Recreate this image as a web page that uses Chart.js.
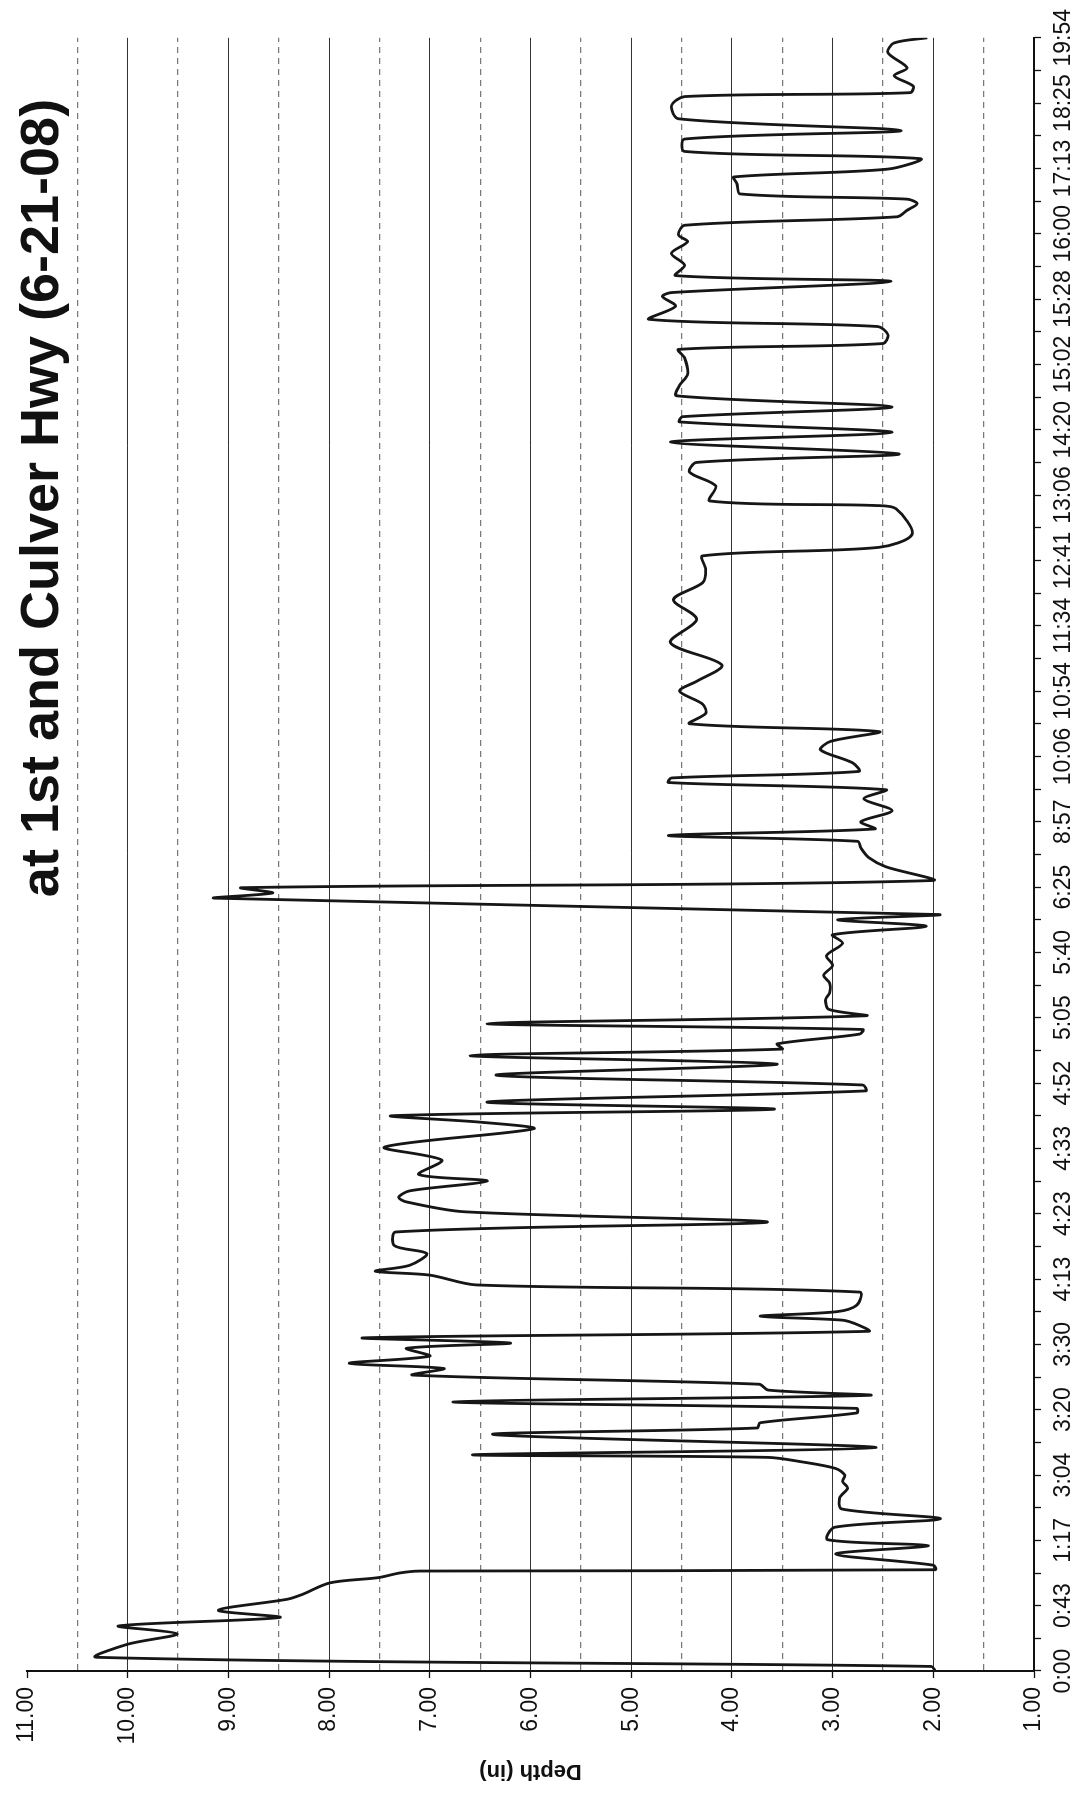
<!DOCTYPE html>
<html>
<head>
<meta charset="utf-8">
<script src="https://cdn.jsdelivr.net/npm/chart.js@4.4.1/dist/chart.umd.min.js"></script>
<style>
  html, body { margin: 0; padding: 0; background: #fff; overflow: hidden; }
  #wrap { position: relative; width: 1086px; height: 1796px; overflow: hidden; background: #fff; }
  #c { position: absolute; left: 0; top: 0; transform-origin: 0 0; transform: translateY(1796px) rotate(-90deg); }
</style>
</head>
<body>
<div id="wrap"><canvas id="c" width="1796" height="1086"></canvas></div>
<script>
// Time tick labels (category positions 0..25)
const timeLabels = ['0:00','0:43','1:17','3:04','3:20','3:30','4:13','4:23','4:33','4:52','5:05','5:40','6:25',
  '8:57','10:06','10:54','11:34','12:41','13:06','14:20','15:02','15:28','16:00','17:13','18:25','19:54'];

// Sample positions along the time axis (in label-index units)
const samplePos = [0,0.07,0.21,0.41,0.57,0.69,0.82,0.93,1.1,1.17,1.35,1.43,1.5,1.53,1.55,1.62,1.79,1.92,2.01,2.2,
  2.33,2.48,2.65,2.8,2.9,3.0,3.1,3.2,3.27,3.31,3.42,3.62,3.72,3.8,3.95,4.02,4.12,4.22,4.3,4.39,
  4.53,4.63,4.71,4.82,4.94,5.02,5.1,5.2,5.3,5.37,5.43,5.5,5.6,5.8,5.91,6.06,6.12,6.21,6.39,6.51,
  6.72,6.87,7.03,7.18,7.25,7.35,7.5,7.6,7.82,8.02,8.3,8.4,8.5,8.6,8.71,8.88,8.97,9.12,9.29,9.42,
  9.52,9.6,9.75,9.82,9.91,10.03,10.13,10.28,10.38,10.53,10.65,10.8,10.95,11.14,11.27,11.4,11.5,11.58,11.83,11.91,
  11.99,12.1,12.31,12.45,12.6,12.7,12.79,12.89,13.0,13.17,13.35,13.49,13.6,13.67,13.77,13.9,14.1,14.23,14.38,14.5,
  14.66,14.8,15.0,15.15,15.4,15.74,16.1,16.4,16.66,16.86,17.07,17.2,17.4,17.79,17.84,17.91,18.14,18.35,18.5,18.63,
  18.81,18.96,19.12,19.2,19.35,19.52,19.68,19.85,20.1,20.23,20.32,20.45,20.58,20.69,20.89,21.04,21.1,21.27,21.36,21.52,
  21.7,21.88,21.98,22.13,22.26,22.36,22.46,22.53,22.61,22.77,22.87,22.99,23.15,23.26,23.45,23.58,23.76,23.96,24.1,24.16,
  24.26,24.42,24.54,24.77,24.92,25.0];

// Depth values (in)
const depthIn = [1.98,2.02,10.31,10.0,9.51,10.09,8.49,9.1,8.41,8.27,7.99,7.51,7.3,7.1,1.98,2.0,2.97,2.05,3.05,2.98,
  1.93,2.91,2.93,2.85,2.9,2.88,2.97,3.3,3.64,6.57,2.57,6.37,3.75,3.72,2.76,2.76,6.77,2.64,3.64,3.73,
  7.17,6.86,7.8,7.0,7.23,6.2,7.65,2.64,2.75,2.9,3.72,2.96,2.76,2.73,6.54,7.0,7.54,7.2,7.03,7.35,
  7.34,3.65,6.66,7.23,7.31,7.2,6.43,7.11,6.88,7.45,5.97,6.49,7.37,3.58,6.43,2.67,2.7,6.34,3.55,6.6,
  3.5,3.55,2.73,2.7,6.43,2.67,3.04,3.07,3.03,3.03,3.09,3.0,3.06,2.9,3.0,2.07,2.95,1.96,9.13,8.56,
  8.87,2.01,2.47,2.64,2.72,2.75,4.63,2.58,2.72,2.41,2.69,2.47,4.63,4.6,2.74,2.8,3.12,3.02,2.54,4.42,
  4.26,4.29,4.52,4.35,4.1,4.61,4.35,4.58,4.29,4.26,4.29,2.54,2.21,2.37,2.57,4.22,4.16,4.42,4.35,2.34,
  4.61,2.41,4.52,4.49,2.41,4.55,4.52,4.44,4.47,4.53,2.5,2.45,2.55,4.82,4.56,4.69,4.6,2.42,4.56,4.47,
  4.6,4.44,4.53,4.47,2.36,2.26,2.16,2.26,3.92,3.95,3.98,2.45,2.13,4.47,4.47,2.32,4.53,4.6,4.47,2.23,
  2.2,2.39,2.26,2.45,2.39,2.06];

const depthMin = 1, depthMax = 11;
const titleText = 'at 1st and Culver Hwy (6-21-08)';
const axisTitle = 'Depth (in)';

const points = samplePos.map((x, i) => ({ x: x, y: depthIn[i] }));

const isInt = v => Math.abs(v - Math.round(v)) < 1e-9;

const titlePlugin = {
  id: 'pageTitle',
  afterDraw(chart) {
    const ctx = chart.ctx;
    ctx.save();
    ctx.font = 'bold 54px "Liberation Sans", Arial, sans-serif';
    ctx.fillStyle = '#111';
    ctx.textAlign = 'center';
    ctx.textBaseline = 'alphabetic';
    ctx.fillText(titleText, 1298, 58);
    ctx.restore();
  }
};

new Chart(document.getElementById('c'), {
  type: 'line',
  data: {
    datasets: [{
      data: points,
      borderColor: '#161616',
      borderWidth: 2.8,
      pointRadius: 0,
      tension: 0.3,
      fill: false
    }]
  },
  options: {
    responsive: false,
    animation: false,
    devicePixelRatio: 1,
    layout: { padding: { top: 27, right: 31, left: 0, bottom: 0 } },
    plugins: { legend: { display: false }, tooltip: { enabled: false }, title: { display: false } },
    scales: {
      x: {
        type: 'linear',
        min: 0,
        max: timeLabels.length - 1,
        afterFit: s => { s.height = 52; },
        ticks: {
          stepSize: 0.5,
          autoSkip: false,
          maxRotation: 0,
          minRotation: 0,
          padding: 9,
          color: '#111',
          font: { family: '"Liberation Sans", Arial, sans-serif', size: 23 },
          callback: v => isInt(v) ? timeLabels[Math.round(v)] : ''
        },
        grid: { drawOnChartArea: false, drawTicks: true, tickLength: 7, tickColor: '#111', tickWidth: 1.3 },
        border: { display: true, color: '#111', width: 2 }
      },
      y: {
        type: 'linear',
        min: depthMin,
        max: depthMax,
        afterFit: s => { s.width = 125; },
        ticks: {
          stepSize: 0.5,
          autoSkip: false,
          padding: 9,
          color: '#111',
          font: { family: '"Liberation Sans", Arial, sans-serif', size: 23 },
          callback: v => isInt(v) ? v.toFixed(2) : ''
        },
        grid: {
          drawOnChartArea: true,
          drawTicks: true,
          tickLength: 7,
          tickWidth: 1.3,
          color: c => {
            const v = c.tick ? c.tick.value : 0;
            if (Math.abs(v - depthMax) < 1e-9) return 'rgba(0,0,0,0)';
            return isInt(v) ? '#333333' : '#7a7a7a';
          },
          lineWidth: c => (c.tick && isInt(c.tick.value)) ? 1 : 1.2,
          tickColor: c => (c.tick && isInt(c.tick.value)) ? '#111' : 'rgba(0,0,0,0)'
        },
        border: {
          display: true, color: '#111', width: 2,
          dash: c => (c.tick && !isInt(c.tick.value)) ? [6, 5] : []
        },
        title: {
          display: true,
          text: axisTitle,
          color: '#111',
          font: { family: '"Liberation Sans", Arial, sans-serif', size: 22, weight: 'bold' },
          padding: { top: 12, bottom: 0 }
        }
      }
    }
  },
  plugins: [titlePlugin]
});
</script>
</body>
</html>
